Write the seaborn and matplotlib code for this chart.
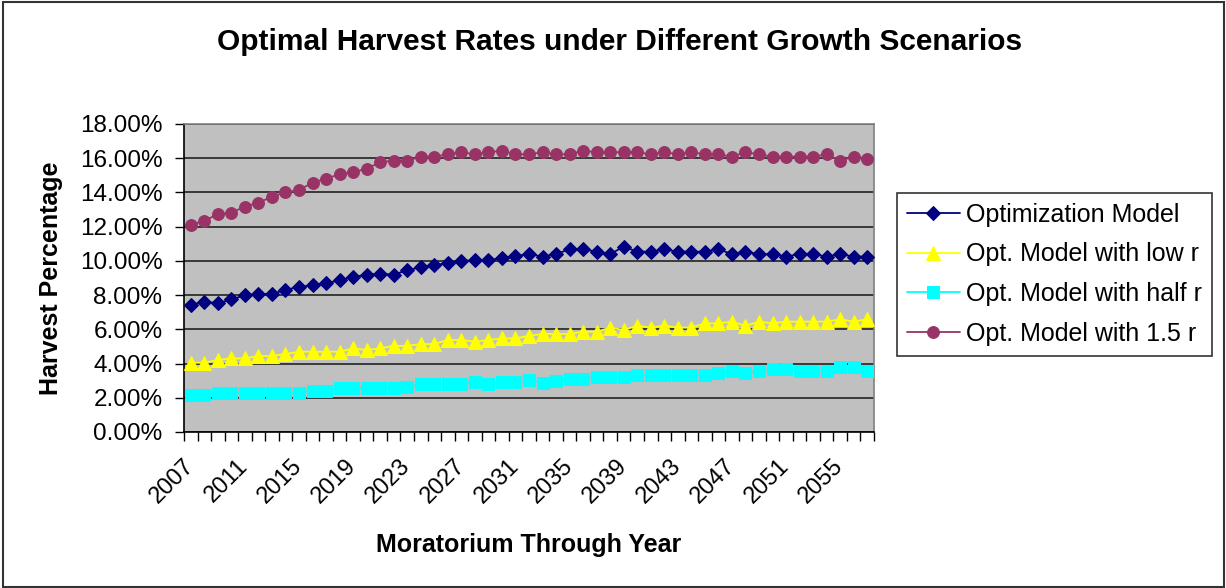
import numpy as np
import pandas as pd
import matplotlib
matplotlib.use('Agg')
import matplotlib.pyplot as plt
import matplotlib.transforms as mtransforms
import seaborn as sns
from matplotlib.patches import Rectangle
from matplotlib.ticker import FixedLocator, FuncFormatter

years = list(range(2007, 2058))

opt_model = [7.42, 7.62, 7.52, 7.75, 7.99, 8.07, 8.07, 8.30, 8.48, 8.58, 8.68, 8.88, 9.05, 9.20, 9.25, 9.20,
             9.45, 9.64, 9.74, 9.88, 9.99, 10.04, 10.04, 10.17, 10.29, 10.40, 10.25, 10.40, 10.68, 10.68,
             10.54, 10.40, 10.83, 10.54, 10.54, 10.68, 10.54, 10.54, 10.54, 10.68, 10.40, 10.54, 10.40,
             10.40, 10.25, 10.40, 10.40, 10.25, 10.40, 10.25, 10.25]
low_r = [4.05, 4.05, 4.21, 4.30, 4.30, 4.44, 4.44, 4.56, 4.69, 4.69, 4.69, 4.69, 4.89, 4.79, 4.89, 5.03,
         5.03, 5.14, 5.14, 5.38, 5.38, 5.28, 5.38, 5.47, 5.47, 5.62, 5.73, 5.73, 5.73, 5.86, 5.86, 6.10,
         5.96, 6.21, 6.10, 6.21, 6.10, 6.10, 6.35, 6.35, 6.45, 6.21, 6.45, 6.35, 6.45, 6.45, 6.45, 6.45,
         6.59, 6.45, 6.59]
half_r = [2.16, 2.16, 2.30, 2.30, 2.30, 2.30, 2.30, 2.30, 2.30, 2.42, 2.42, 2.55, 2.55, 2.55, 2.55, 2.55,
          2.65, 2.79, 2.79, 2.79, 2.79, 2.90, 2.79, 2.90, 2.90, 3.02, 2.88, 3.00, 3.12, 3.12, 3.23, 3.23,
          3.23, 3.35, 3.35, 3.35, 3.35, 3.35, 3.35, 3.47, 3.58, 3.47, 3.58, 3.70, 3.70, 3.58, 3.58, 3.58,
          3.82, 3.82, 3.58]
r_15 = [12.10, 12.35, 12.72, 12.82, 13.17, 13.40, 13.75, 14.01, 14.14, 14.57, 14.81, 15.06, 15.18, 15.39,
        15.76, 15.86, 15.86, 16.09, 16.09, 16.23, 16.35, 16.23, 16.35, 16.44, 16.23, 16.23, 16.35, 16.23,
        16.23, 16.44, 16.35, 16.35, 16.35, 16.35, 16.23, 16.35, 16.23, 16.35, 16.23, 16.23, 16.09, 16.35,
        16.23, 16.09, 16.09, 16.09, 16.09, 16.23, 15.86, 16.09, 15.98]

series_names = ['Optimization Model', 'Opt. Model with low r', 'Opt. Model with half r', 'Opt. Model with 1.5 r']
series_values = [opt_model, low_r, half_r, r_15]
colors = ['#000080', '#FFFF00', '#00FFFF', '#993366']
markers = ['D', '^', 's', 'o']
msizes = [7, 9.5, 8, 8.5]

sns.set_style('white')
plt.rcParams['font.family'] = ['Liberation Sans', 'DejaVu Sans']
plt.rcParams['text.color'] = 'black'
plt.rcParams['axes.labelcolor'] = 'black'
plt.rcParams['xtick.color'] = 'black'
plt.rcParams['ytick.color'] = 'black'

fig = plt.figure(figsize=(12.26, 5.88), dpi=100)
ax = fig.add_axes([184 / 1226, 1 - 432 / 588, (874 - 184) / 1226, (432 - 124) / 588])
ax.set_facecolor('#C0C0C0')

for name, vals, c, m, ms in zip(series_names, series_values, colors, markers, msizes):
    df = pd.DataFrame({'Year': years, 'Rate': vals})
    sns.lineplot(data=df, x='Year', y='Rate', ax=ax, color=c, marker=m, markersize=ms,
                 markeredgecolor=c, linewidth=1.3, label=name, legend=False, zorder=3)

ax.set_xlim(years[0] - 0.5, years[-1] + 0.5)
ax.set_ylim(0, 18)
ax.set_yticks(np.arange(0, 18.01, 2))
ax.yaxis.set_major_formatter(FuncFormatter(lambda v, p: f'{v:.2f}%'))
ax.grid(axis='y', color='#222222', linewidth=1.2)
ax.grid(axis='x', visible=False)
ax.set_axisbelow(True)

ax.set_xticks(years[::4])
ax.set_xticklabels([str(y) for y in years[::4]], rotation=45, ha='right', va='center',
                   rotation_mode='anchor', fontsize=17)
shift = mtransforms.ScaledTranslation(-8 / 100, 0, fig.dpi_scale_trans)
for lbl in ax.get_xticklabels():
    lbl.set_transform(lbl.get_transform() + shift)
ax.xaxis.set_minor_locator(FixedLocator([y - 0.5 for y in years] + [years[-1] + 0.5]))
ax.tick_params(axis='x', which='major', length=0, pad=22)
ax.tick_params(axis='x', which='minor', length=6.5, width=1, color='black', direction='out', bottom=True)
ax.tick_params(axis='y', length=6.5, width=1, color='black', direction='out', left=True, labelsize=17.5, pad=9)

for s in ['left', 'bottom']:
    ax.spines[s].set_color('black')
    ax.spines[s].set_linewidth(1.2)
for s in ['top', 'right']:
    ax.spines[s].set_color('#808080')
    ax.spines[s].set_linewidth(1.2)

ax.set_xlabel('Moratorium Through Year', fontsize=18, fontweight='bold', labelpad=18)
ax.set_ylabel('Harvest Percentage', fontsize=18, fontweight='bold', labelpad=12)

fig.text(0.505, 1 - 42 / 588, 'Optimal Harvest Rates under Different Growth Scenarios',
         ha='center', va='center', fontsize=21.5, fontweight='bold')

leg = ax.legend(loc='upper left', bbox_to_anchor=(897 / 1226, 1 - 193 / 588), bbox_transform=fig.transFigure,
                fontsize=18, frameon=True, fancybox=False, edgecolor='#333333', framealpha=1,
                borderaxespad=0, handlelength=2.1, labelspacing=0.62, borderpad=0.4, handletextpad=0.25)
leg.get_frame().set_linewidth(1.2)

fig.patches.append(Rectangle((3 / 1226, 1 / 588), 1221 / 1226, 585 / 588, transform=fig.transFigure,
                             fill=False, edgecolor='#333333', linewidth=1.5))

fig.savefig('out.png', dpi=100)
